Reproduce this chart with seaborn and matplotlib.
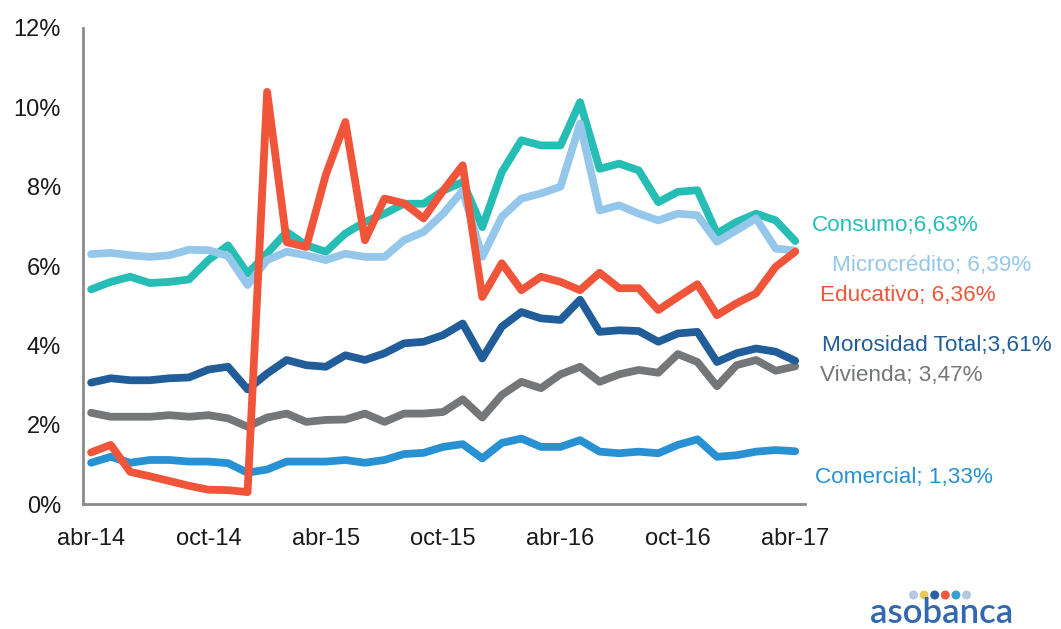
import numpy as np
import pandas as pd
import matplotlib
matplotlib.use("Agg")
import matplotlib.pyplot as plt
import seaborn as sns

# =========================
# DATA (monthly, abr-14 .. abr-17)
# =========================

tick_labels = ["abr-14", "oct-14", "abr-15", "oct-15", "abr-16", "oct-16", "abr-17"]
n_months = 37

consumo = [5.41, 5.60, 5.73, 5.57, 5.60, 5.66, 6.15, 6.52, 5.81, 6.32, 6.86, 6.52,
           6.36, 6.82, 7.11, 7.32, 7.57, 7.57, 7.90, 8.12, 6.98, 8.37, 9.17, 9.04,
           9.04, 10.13, 8.45, 8.58, 8.41, 7.61, 7.87, 7.91, 6.82, 7.11, 7.32, 7.15, 6.63]
microcredito = [6.30, 6.33, 6.27, 6.23, 6.27, 6.41, 6.40, 6.25, 5.52, 6.15, 6.36, 6.27,
                6.15, 6.31, 6.23, 6.23, 6.65, 6.86, 7.32, 7.90, 6.23, 7.24, 7.70, 7.83,
                8.00, 9.59, 7.40, 7.53, 7.32, 7.15, 7.32, 7.28, 6.61, 6.90, 7.20, 6.44, 6.39]
educativo = [1.30, 1.49, 0.81, 0.70, 0.58, 0.46, 0.36, 0.35, 0.30, 10.39, 6.60, 6.48,
             8.30, 9.63, 6.65, 7.70, 7.58, 7.20, 7.90, 8.54, 5.22, 6.07, 5.39, 5.73,
             5.60, 5.39, 5.83, 5.44, 5.44, 4.89, 5.22, 5.54, 4.76, 5.06, 5.31, 5.98, 6.36]
morosidad = [3.06, 3.17, 3.12, 3.12, 3.17, 3.19, 3.39, 3.46, 2.89, 3.29, 3.63, 3.50,
             3.46, 3.75, 3.63, 3.80, 4.05, 4.09, 4.26, 4.55, 3.67, 4.47, 4.84, 4.68,
             4.64, 5.15, 4.34, 4.38, 4.36, 4.09, 4.30, 4.34, 3.58, 3.80, 3.92, 3.84, 3.61]
vivienda = [2.30, 2.20, 2.20, 2.20, 2.24, 2.20, 2.24, 2.16, 1.95, 2.18, 2.28, 2.07,
            2.12, 2.13, 2.28, 2.07, 2.28, 2.28, 2.32, 2.64, 2.18, 2.75, 3.08, 2.92,
            3.27, 3.46, 3.08, 3.27, 3.38, 3.31, 3.78, 3.58, 2.97, 3.50, 3.63, 3.36, 3.47]
comercial = [1.04, 1.19, 1.04, 1.11, 1.11, 1.07, 1.07, 1.03, 0.79, 0.87, 1.07, 1.07,
             1.07, 1.11, 1.04, 1.11, 1.26, 1.29, 1.44, 1.51, 1.15, 1.54, 1.65, 1.44,
             1.44, 1.61, 1.32, 1.28, 1.32, 1.28, 1.49, 1.63, 1.19, 1.23, 1.32, 1.36, 1.33]

series = {
    "Consumo": consumo,
    "Microcrédito": microcredito,
    "Educativo": educativo,
    "Morosidad Total": morosidad,
    "Vivienda": vivienda,
    "Comercial": comercial,
}

colors = {
    "Consumo": "#26BDB5",
    "Microcrédito": "#95C7EB",
    "Educativo": "#F0553A",
    "Morosidad Total": "#215D99",
    "Vivienda": "#747678",
    "Comercial": "#2791D3",
}

end_labels = {
    "Consumo": "Consumo;6,63%",
    "Microcrédito": "Microcrédito; 6,39%",
    "Educativo": "Educativo; 6,36%",
    "Morosidad Total": "Morosidad Total;3,61%",
    "Vivienda": "Vivienda; 3,47%",
    "Comercial": "Comercial; 1,33%",
}

# draw order (last on top)
draw_order = ["Vivienda", "Comercial", "Morosidad Total", "Consumo", "Microcrédito", "Educativo"]

df = pd.concat(
    [pd.DataFrame({"mes": np.arange(n_months), "valor": v, "serie": k}) for k, v in series.items()],
    ignore_index=True,
)

# =========================
# PLOT
# =========================

sns.set_style("white")
plt.rcParams["font.family"] = ["Liberation Sans", "DejaVu Sans"]

fig = plt.figure(figsize=(10.61, 6.29), dpi=100)
ax = fig.add_axes([0.0785, 0.1987, 0.6802, 0.7568])

for name in draw_order:
    sns.lineplot(data=df[df["serie"] == name], x="mes", y="valor", color=colors[name],
                 linewidth=5.6, ax=ax, legend=False)

ax.set_xlim(-0.4, 36.5)
ax.set_ylim(0, 12)
ax.set_yticks(np.arange(0, 13, 2))
ax.set_yticklabels([f"{v}%" for v in range(0, 13, 2)], fontsize=17)
ax.set_xticks(np.arange(0, n_months, 6))
ax.set_xticklabels(tick_labels, fontsize=17)
ax.set_xticks(np.arange(5.55, n_months, 6), minor=True)
ax.tick_params(axis="x", which="major", length=0, pad=17, colors="#1a1a1a")
ax.tick_params(axis="x", which="minor", length=6, width=1.8, color="#8a8a8a", direction="out")
ax.tick_params(axis="y", length=0, pad=16, colors="#1a1a1a")
ax.set_xlabel("")
ax.set_ylabel("")

for side in ["top", "right"]:
    ax.spines[side].set_visible(False)
for side in ["left", "bottom"]:
    ax.spines[side].set_color("#8a8a8a")
    ax.spines[side].set_linewidth(2)

# end labels (figure pixel positions)
label_pos = {
    "Consumo": (812, 226),
    "Microcrédito": (832, 265),
    "Educativo": (820, 295),
    "Morosidad Total": (822, 345),
    "Vivienda": (820, 375),
    "Comercial": (815, 477),
}
for name, (px, py) in label_pos.items():
    fig.text(px / 1061, 1 - py / 629, end_labels[name], color=colors[name],
             fontsize=16.2, ha="left", va="center")

# logo
fig.text(942 / 1061, 1 - 613 / 629, "asobanca", color="#3468AE", fontsize=25,
         fontweight="semibold", family=["Lato", "DejaVu Sans"], ha="center", va="center")
logo_ax = fig.add_axes([905 / 1061, 1 - 602 / 629, 70 / 1061, 14 / 629])
dot_colors = ["#B5C9E2", "#E8C95E", "#2D5EA8", "#EE5A3C", "#3B9ED0", "#B5C9E2"]
logo_ax.scatter(np.arange(len(dot_colors)), np.zeros(len(dot_colors)), s=30, c=dot_colors)
logo_ax.set_xlim(-0.8, len(dot_colors) - 0.2)
logo_ax.set_ylim(-1, 1)
logo_ax.axis("off")

fig.savefig("out.png", dpi=100)
